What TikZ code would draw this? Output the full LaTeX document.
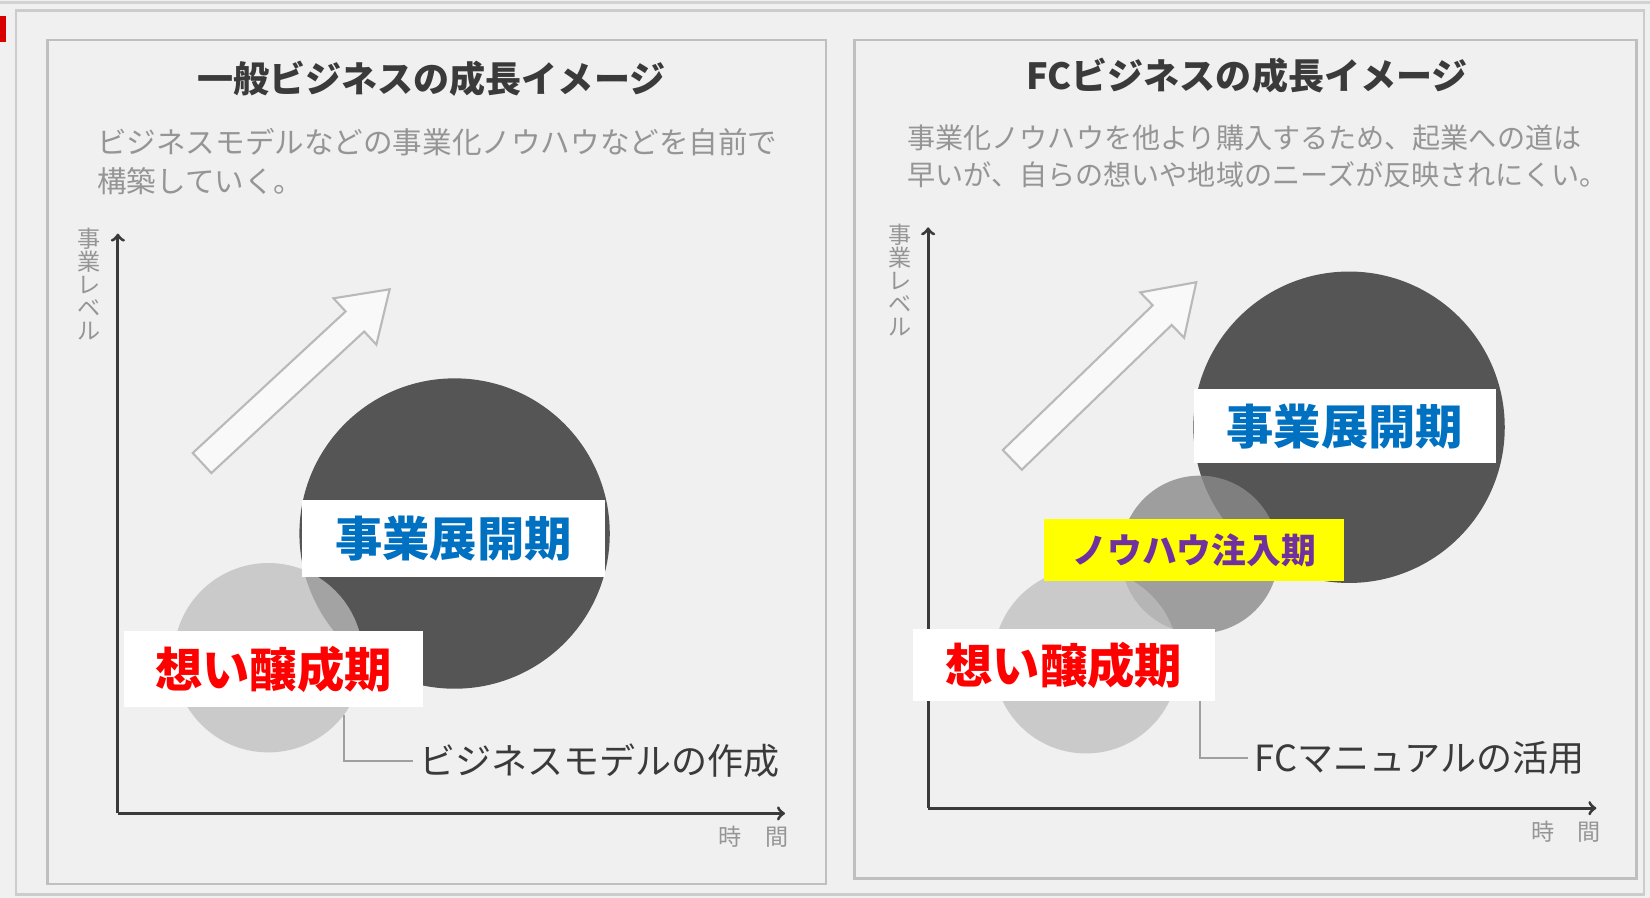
\documentclass[tikz,border=0pt]{standalone}
\usepackage{fontspec}
\setmainfont{Noto Sans CJK JP}
\usetikzlibrary{positioning}
\definecolor{stageblue}{HTML}{0070C0}
\definecolor{stagered}{HTML}{FF0000}
\definecolor{stagepurple}{HTML}{7030A0}
\definecolor{stageyellow}{HTML}{FFFF00}
\definecolor{paper}{HTML}{F0F0F0}
\definecolor{inkdark}{HTML}{3A3A3A}
\definecolor{inklight}{HTML}{959595}
\definecolor{bigdisc}{HTML}{555555}
\definecolor{middisc}{HTML}{8A8A8A}
\definecolor{smalldisc}{HTML}{BEBEBE}
\newcommand{\fs}[1]{\fontsize{#1pt}{#1pt}\selectfont}
\tikzset{
  panel/.style={draw=gray!50,line width=0.05cm},
  axis/.style={draw=inkdark,line width=0.06cm,->},
  disc/.style={circle,inner sep=0pt},
  growarrow/.style={draw=gray!55,line width=0.04cm,fill=white,fill opacity=0.6},
  leader/.style={draw=gray!75,line width=0.035cm},
  stage/.style={fill=white,inner sep=0pt,font=\bfseries\fs{25.6}},
  heading/.style={text=inkdark,font=\bfseries\fs{19.5}},
  caption/.style={text=inkdark,font=\fs{19.5},anchor=west},
  vlabel/.style={text=inklight,font=\fs{12.5},align=center}
}
\begin{document}
\begin{tikzpicture}[x=0.02cm,y=-0.02cm]
  \useasboundingbox (0,0) rectangle (1568,853);
  \fill[paper] (0,0) rectangle (1568,853);
  %% outer frame
  \draw[gray!35,line width=0.06cm] (0,2) -- (1568,2);
  \draw[gray!40,line width=0.04cm] (15,10) rectangle (1562,850);
  \fill[red!85!black] (0,15) rectangle (6,40);
  %% panels
  \draw[panel] (45,38) rectangle (785,840);
  \draw[panel] (812,38) rectangle (1555,835);
  %% titles and texts
  \node[heading] (titleL) at (410,75) {一般ビジネスの成長イメージ};
  \node[heading] (titleR) at (1185,72) {FCビジネスの成長イメージ};
  \node[text=inklight,font=\fontsize{16pt}{21pt}\selectfont,anchor=north west,align=left,inner sep=0pt] (descL) at (92,122)
    {ビジネスモデルなどの事業化ノウハウなどを自前で\\構築していく。};
  \node[text=inklight,font=\fontsize{15.2pt}{20pt}\selectfont,anchor=north west,align=left,inner sep=0pt] (descR) at (862,118)
    {事業化ノウハウを他より購入するため、起業への道は\\早いが、自らの想いや地域のニーズが反映されにくい。};
  %% growth arrows
  \begin{scope}[shift={(192,440)},rotate=42.8]
    \draw[growarrow] (0,-13) -- (198,-13) -- (198,-30) -- (243,0) -- (198,30) -- (198,13) -- (0,13) -- cycle;
  \end{scope}
  \begin{scope}[shift={(962,437)},rotate=44]
    \draw[growarrow] (0,-13) -- (198,-13) -- (198,-30) -- (243,0) -- (198,30) -- (198,13) -- (0,13) -- cycle;
  \end{scope}
  %% discs, left
  \node[disc,fill=bigdisc,minimum size=5.9cm] (bigL) at (432,507) {};
  \node[disc,fill=smalldisc,fill opacity=0.75,minimum size=3.6cm] (smallL) at (255,625) {};
  %% discs, right
  \node[disc,fill=bigdisc,minimum size=5.92cm] (bigR) at (1282,406) {};
  \node[disc,fill=middisc,fill opacity=0.8,minimum size=3cm] (midR) at (1140,527) {};
  \node[disc,fill=smalldisc,fill opacity=0.75,minimum size=3.52cm] (smallR) at (1032,628) {};
  %% captions
  \node[caption] (capL) at (392,723) {ビジネスモデルの作成};
  \node[caption] (capR) at (1186,720) {FCマニュアルの活用};
  \draw[leader] (smallL.-37) |- (capL.west);
  \draw[leader] (midR.south) |- (capR.west);
  %% axes
  \coordinate (originL) at (112,773);
  \draw[axis] (originL) -- (112,222);
  \draw[axis] (originL) -- (746,773);
  \coordinate (originR) at (882,768);
  \draw[axis] (originR) -- (882,216);
  \draw[axis] (originR) -- (1517,768);
  \node[vlabel] (levelL) at (85,270) {事\\業\\レ\\ベ\\ル};
  \node[vlabel] (levelR) at (855,266) {事\\業\\レ\\ベ\\ル};
  \node[text=inklight,font=\fs{12.5}] (timeL) at (716,795) {時　間};
  \node[text=inklight,font=\fs{12.5}] (timeR) at (1488,790) {時　間};
  %% stage labels
  \node[stage,text=stageblue,minimum width=5.76cm,minimum height=1.46cm] (expandL) at (431,512) {事業展開期};
  \node[stage,text=stagered,minimum width=5.68cm,minimum height=1.44cm] (dreamL) at (260,636) {想い醸成期};
  \node[stage,text=stageblue,minimum width=5.74cm,minimum height=1.4cm] (expandR) at (1278,405) {事業展開期};
  \node[stage,fill=stageyellow,text=stagepurple,font=\bfseries\fs{18.8},minimum width=5.7cm,minimum height=1.18cm] (knowR) at (1135,523) {ノウハウ注入期};
  \node[stage,text=stagered,minimum width=5.74cm,minimum height=1.38cm] (dreamR) at (1011,632) {想い醸成期};
\end{tikzpicture}
\end{document}
